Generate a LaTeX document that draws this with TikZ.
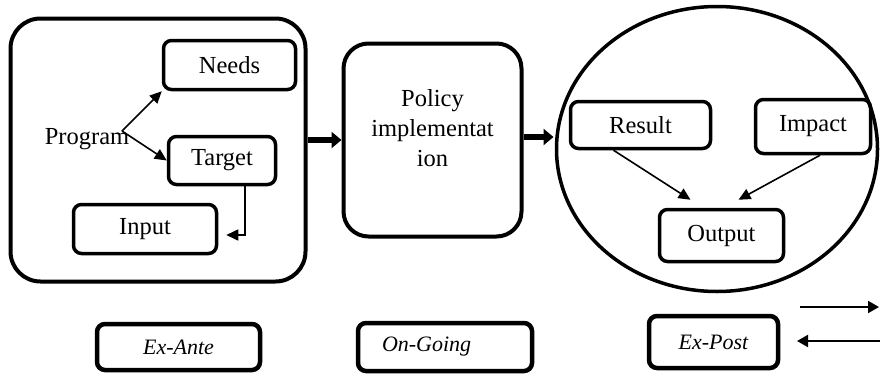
\documentclass[tikz,border=0pt]{standalone}
\usepackage{fontspec}
\setmainfont{Liberation Serif}
\usetikzlibrary{arrows.meta, shapes.geometric, calc}

\begin{document}
\begin{tikzpicture}[x=1pt, y=-1pt,
  every node/.style={font=\fontsize{24.5}{30}\selectfont},
  box/.style={draw, rounded corners=8pt, line width=3.5pt, inner sep=0pt},
  stagebox/.style={draw, rounded corners=8pt, line width=4.5pt, inner sep=0pt, font=\fontsize{22}{26}\selectfont\itshape},
  thinarrow/.style={line width=1.6pt, -{Triangle[length=12pt, width=11pt]}},
  bigarrow/.style={line width=5.5pt, -{Triangle[length=10pt, width=16pt]}}]
\useasboundingbox (0,0) rectangle (880,375);
\node[draw, rounded corners=30pt, line width=4pt, minimum width=295pt, minimum height=263pt] (ante) at (158,150) {};
\node[box, minimum width=132pt, minimum height=49pt] (needs) at (229.5,65) {Needs};
\node[box, minimum width=107pt, minimum height=48pt] (target) at (222,160.5) {Target};
\node[box, minimum width=143pt, minimum height=49pt] (input) at (145,229) {Input};
\node[inner sep=0pt] (program) at (87,139) {Program};
\coordinate (fork) at (122,131);
\draw[thinarrow] (fork) -- (needs.south west);
\draw[thinarrow] (fork) -- (target.west);
\draw[thinarrow] ([xshift=23pt]target.south) |- ($(input.east)+(8,6)$);
\node[draw, rounded corners=25pt, line width=4pt, minimum width=178pt, minimum height=193pt] (policy) at (432.5,140) {};
\node[align=center, inner sep=0pt] (policytext) at (432.5,128) {Policy\\implementat\\ion};
\draw[bigarrow] ([yshift=10pt]ante.east) -- (policy.west);
\node[draw, ellipse, line width=3.5pt, minimum width=321pt, minimum height=285pt, inner sep=0pt] (post) at (717,149) {};
\draw[bigarrow] ([yshift=3pt]policy.east) -- ($(policy.east)+(30,-3)$);
\node[box, minimum width=140pt, minimum height=47pt] (result) at (640.5,125) {Result};
\node[box, minimum width=115pt, minimum height=54pt] (impact) at (813,126.5) {Impact};
\node[box, minimum width=124pt, minimum height=52pt] (output) at (721.5,235.5) {Output};
\draw[thinarrow] ([xshift=-27pt]result.south) -- ([xshift=-31pt, yshift=8pt]output.north);
\draw[thinarrow] ([xshift=7pt]impact.south) -- ([xshift=17pt, yshift=8pt]output.north);
\node[stagebox, minimum width=163pt, minimum height=46pt] (exante) at (178.5,347) {Ex-Ante};
\node[stagebox, text width=126pt, inner xsep=24pt, align=left, minimum height=48pt] (ongoing) at (445,347) {On-Going};
\node[stagebox, minimum width=129pt, minimum height=52pt] (expost) at (713.5,342) {Ex-Post};
\coordinate (fwdstart) at (800,307);
\coordinate (fwdend) at (879,307);
\coordinate (backstart) at (880,341);
\coordinate (backend) at (797,341);
\draw[line width=2pt, -{Triangle[length=11pt, width=12pt]}] (fwdstart) -- (fwdend);
\draw[line width=2pt, -{Triangle[length=11pt, width=12pt]}] (backstart) -- (backend);
\end{tikzpicture}
\end{document}
